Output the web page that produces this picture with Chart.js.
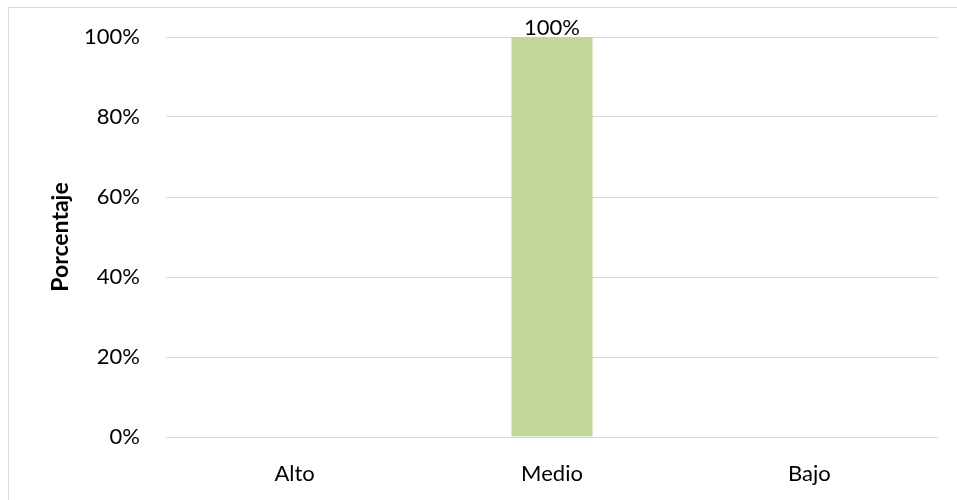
<!DOCTYPE html>
<html>
<head>
<meta charset="utf-8">
<script src="https://cdn.jsdelivr.net/npm/chart.js@4"></script>
<style>
  html, body { margin: 0; padding: 0; background: #fff; }
  #wrap { position: relative; width: 957px; height: 500px; }
  #frame {
    position: absolute; left: 8px; top: 7px; right: 0; bottom: 0;
    border-left: 1px solid #d9d9d9; border-top: 1px solid #d9d9d9;
    pointer-events: none;
  }
</style>
</head>
<body>
<div id="wrap">
  <canvas id="chart" width="957" height="500"></canvas>
  <div id="frame"></div>
</div>
<script>
const categories = ["Alto", "Medio", "Bajo"];
const percentages = [0, 100, 0];
const yTicks = [0, 20, 40, 60, 80, 100];

// value labels above each non-empty bar
const barLabels = {
  id: "barLabels",
  afterDatasetsDraw(chart) {
    const ctx = chart.ctx;
    const meta = chart.getDatasetMeta(0);
    ctx.save();
    ctx.font = "22px Lato";
    ctx.fillStyle = "#000";
    ctx.textAlign = "center";
    ctx.textBaseline = "alphabetic";
    meta.data.forEach(function (bar, i) {
      if (!percentages[i]) return;
      ctx.fillText(percentages[i] + "%", bar.x, bar.y - 2);
    });
    ctx.restore();
  }
};

Chart.defaults.font.family = "Lato";
Chart.defaults.font.size = 22;
Chart.defaults.color = "#000";

new Chart(document.getElementById("chart"), {
  type: "bar",
  data: {
    labels: categories,
    datasets: [{
      data: percentages,
      backgroundColor: "#c4d79b",
      barPercentage: 0.315,
      categoryPercentage: 1
    }]
  },
  options: {
    responsive: false,
    animation: false,
    layout: { padding: { top: 37, right: 19, left: 0, bottom: 0 } },
    plugins: {
      legend: { display: false },
      tooltip: { enabled: false }
    },
    scales: {
      x: {
        grid: { display: false },
        border: { display: false },
        ticks: { padding: 16 },
        afterFit(scale) { scale.height = 63; }
      },
      y: {
        min: 0,
        max: 100,
        afterBuildTicks(scale) {
          scale.ticks = yTicks.map(v => ({ value: v }));
        },
        grid: { color: "#d9d9d9", drawTicks: false, lineWidth: 1 },
        border: { display: false },
        ticks: { padding: 26, callback: v => v + "%" },
        title: {
          display: true,
          text: "Porcentaje",
          font: { size: 23, weight: "bold" },
          padding: { top: 47, bottom: 0 }
        },
        afterFit(scale) {
          scale.width = 166;
          // tick padding shouldn't push the plot area down
          scale.paddingTop = 14;
          scale.paddingBottom = 14;
        }
      }
    }
  },
  plugins: [barLabels]
});
</script>
</body>
</html>
